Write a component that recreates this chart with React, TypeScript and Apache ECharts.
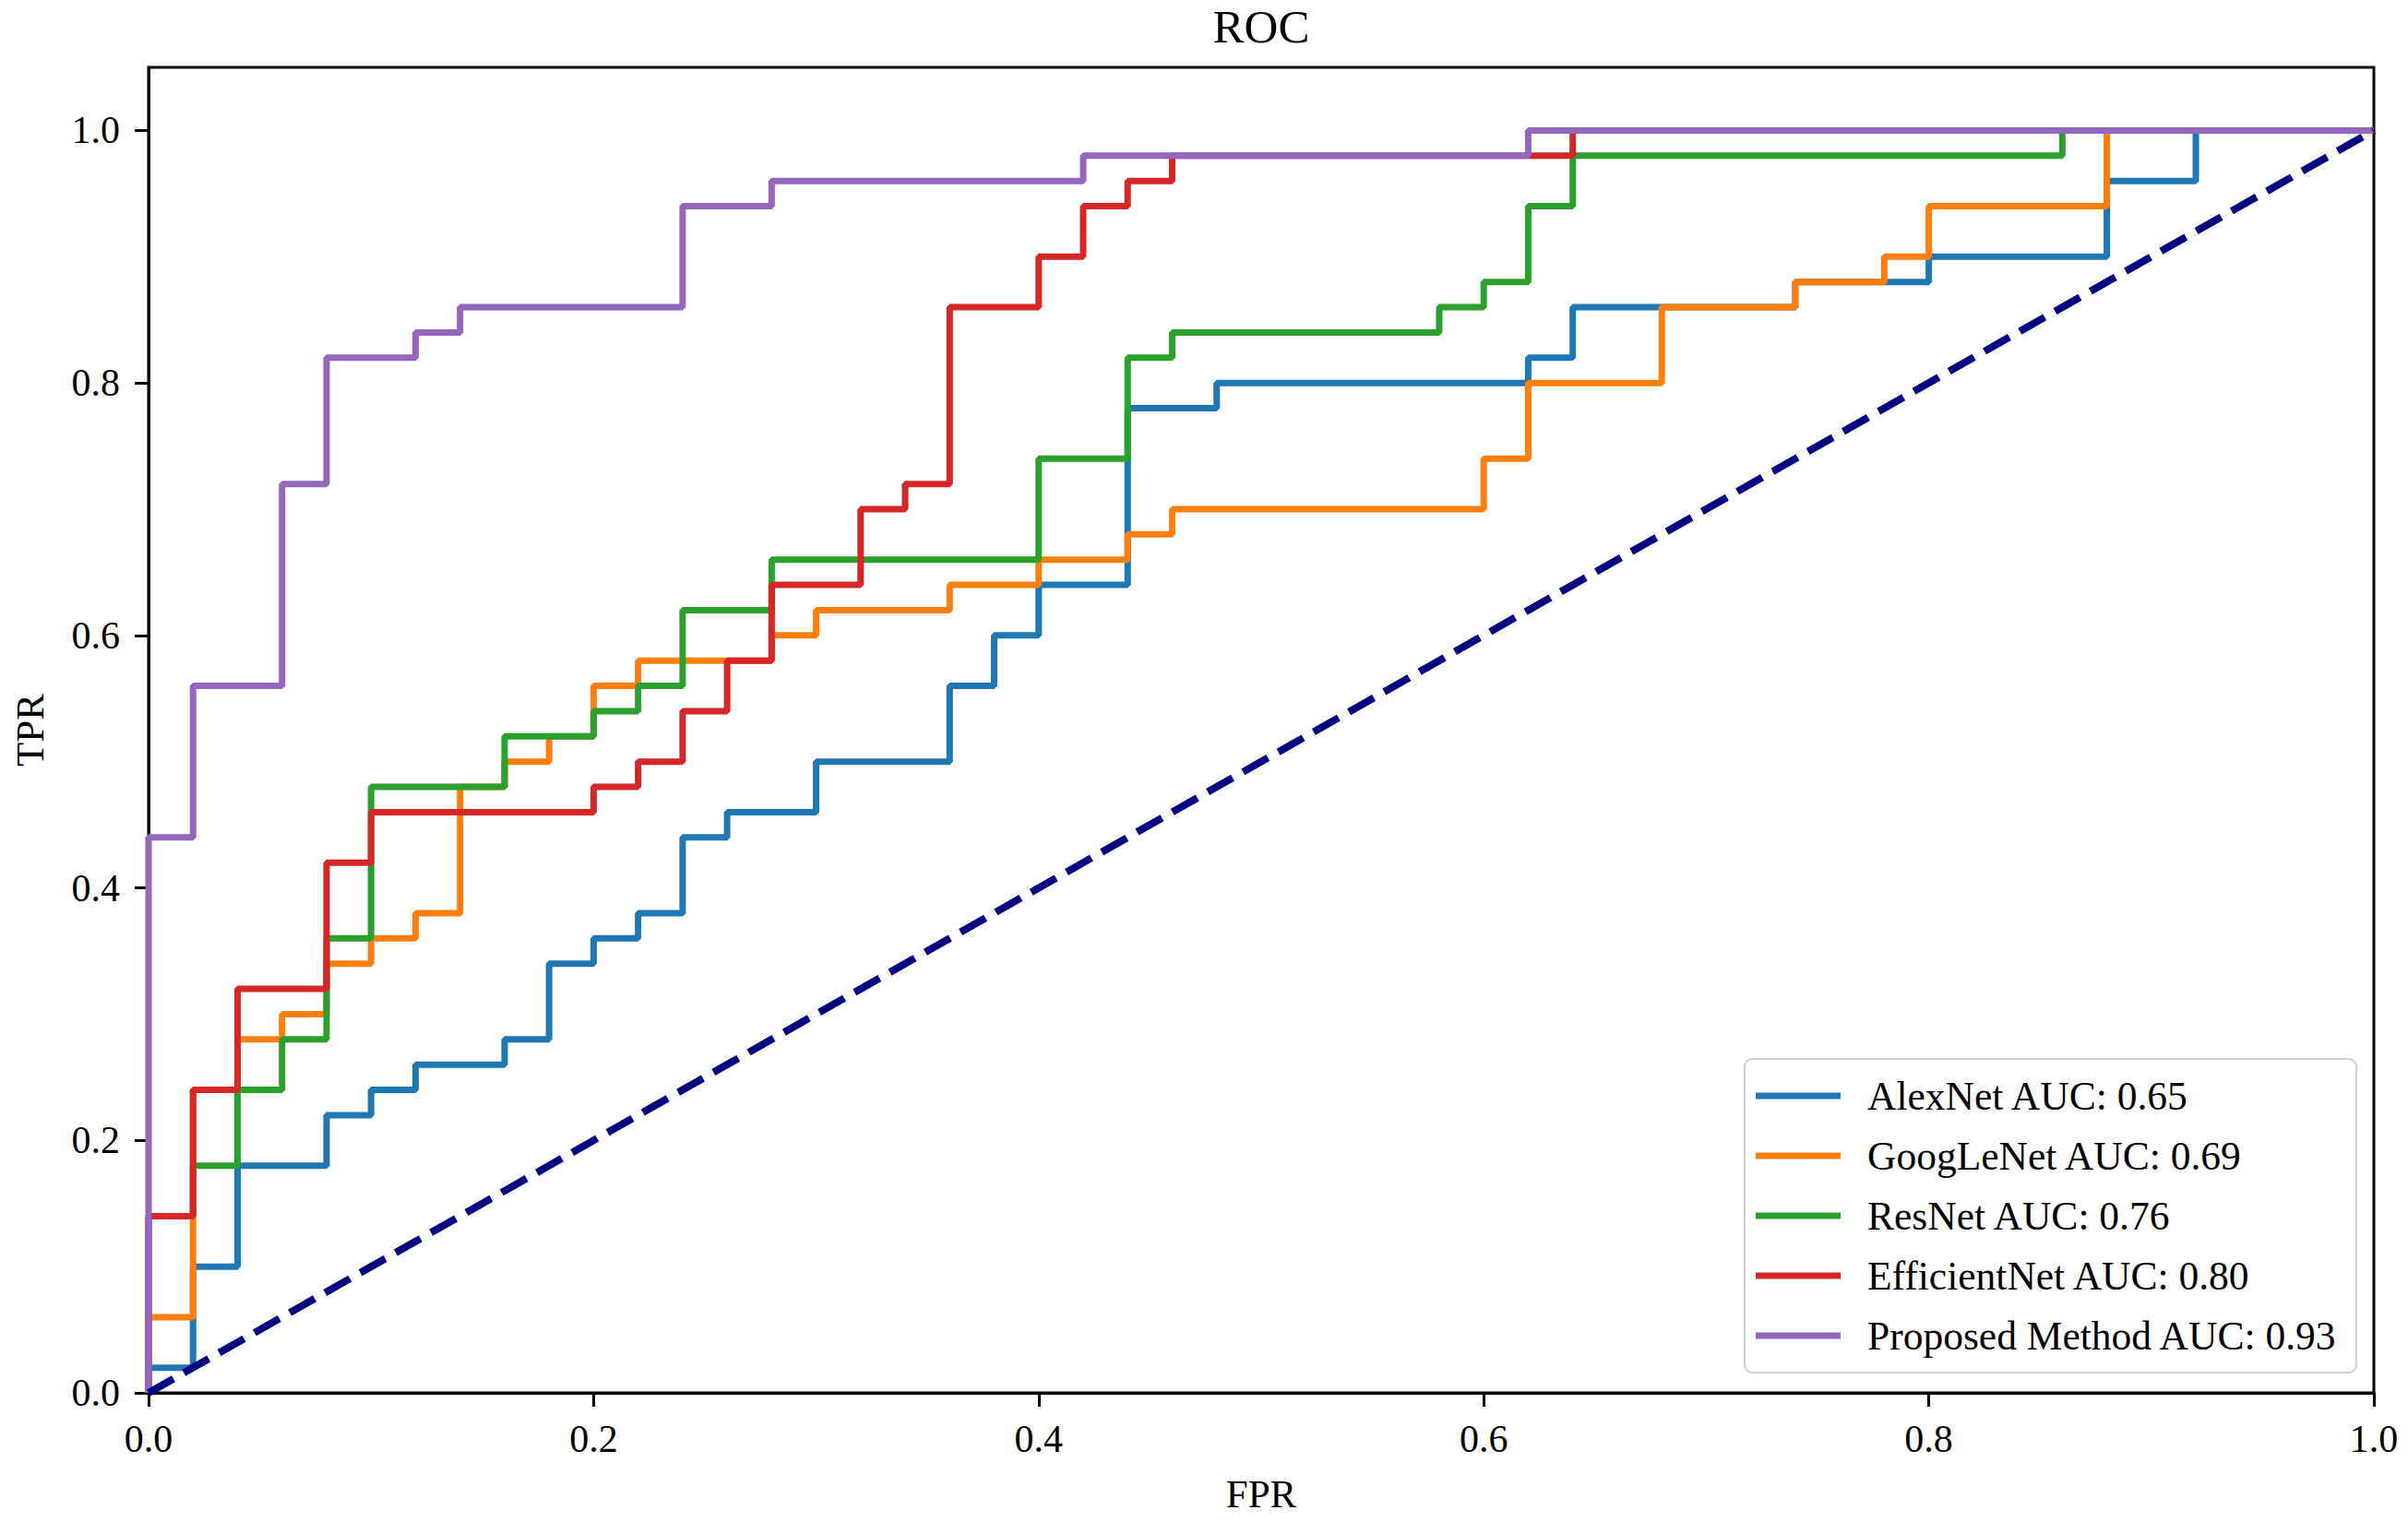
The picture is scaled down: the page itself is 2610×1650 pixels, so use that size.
import React, { useEffect, useRef } from "react";
import * as echarts from "echarts";

// ROC breakpoints: at fpr[i] the curve rises to tpr[i]
const alexNetFpr = [0, 0, 0.02, 0.04, 0.08, 0.1, 0.12, 0.16, 0.18, 0.2, 0.22, 0.24, 0.26, 0.3, 0.36, 0.38, 0.4, 0.44, 0.48, 0.62, 0.64, 0.74, 0.8, 0.88, 0.92, 1.0];
const alexNetTpr = [0, 0.02, 0.1, 0.18, 0.22, 0.24, 0.26, 0.28, 0.34, 0.36, 0.38, 0.44, 0.46, 0.5, 0.56, 0.6, 0.64, 0.78, 0.8, 0.82, 0.86, 0.88, 0.9, 0.96, 1.0, 1.0];

const googLeNetFpr = [0, 0, 0.02, 0.04, 0.06, 0.08, 0.1, 0.12, 0.14, 0.16, 0.18, 0.2, 0.22, 0.28, 0.3, 0.36, 0.4, 0.44, 0.46, 0.6, 0.62, 0.68, 0.74, 0.78, 0.8, 0.88, 1.0];
const googLeNetTpr = [0, 0.06, 0.24, 0.28, 0.3, 0.34, 0.36, 0.38, 0.48, 0.5, 0.52, 0.56, 0.58, 0.6, 0.62, 0.64, 0.66, 0.68, 0.7, 0.74, 0.8, 0.86, 0.88, 0.9, 0.94, 1.0, 1.0];

const resNetFpr = [0, 0, 0.02, 0.04, 0.06, 0.08, 0.1, 0.16, 0.2, 0.22, 0.24, 0.28, 0.4, 0.44, 0.46, 0.58, 0.6, 0.62, 0.64, 0.86, 1.0];
const resNetTpr = [0, 0.14, 0.18, 0.24, 0.28, 0.36, 0.48, 0.52, 0.54, 0.56, 0.62, 0.66, 0.74, 0.82, 0.84, 0.86, 0.88, 0.94, 0.98, 1.0, 1.0];

const efficientNetFpr = [0, 0, 0.02, 0.04, 0.08, 0.1, 0.2, 0.22, 0.24, 0.26, 0.28, 0.32, 0.34, 0.36, 0.4, 0.42, 0.44, 0.46, 0.64, 1.0];
const efficientNetTpr = [0, 0.14, 0.24, 0.32, 0.42, 0.46, 0.48, 0.5, 0.54, 0.58, 0.64, 0.7, 0.72, 0.86, 0.9, 0.94, 0.96, 0.98, 1.0, 1.0];

const proposedFpr = [0, 0, 0.02, 0.06, 0.08, 0.12, 0.14, 0.24, 0.28, 0.42, 0.62, 1.0];
const proposedTpr = [0, 0.44, 0.56, 0.72, 0.82, 0.84, 0.86, 0.94, 0.96, 0.98, 1.0, 1.0];

const chanceFpr = [0, 1];
const chanceTpr = [0, 1];

const seriesNames = [
  "AlexNet AUC: 0.65",
  "GoogLeNet AUC: 0.69",
  "ResNet AUC: 0.76",
  "EfficientNet AUC: 0.80",
  "Proposed Method AUC: 0.93",
];
const seriesColors = ["#1f77b4", "#ff7f0e", "#2ca02c", "#d62728", "#9467bd"];
const tickValues = [0, 0.2, 0.4, 0.6, 0.8, 1.0];

const FONT = "'Liberation Serif', 'DejaVu Serif', serif";

function zip(xs: number[], ys: number[]) {
  return xs.map((x, i) => [x, ys[i]]);
}

export default function App() {
  const ref = useRef<HTMLDivElement>(null);

  useEffect(() => {
    if (!ref.current) return;
    const chart = echarts.init(ref.current, null, { renderer: "svg" });
    const curves = [
      zip(alexNetFpr, alexNetTpr),
      zip(googLeNetFpr, googLeNetTpr),
      zip(resNetFpr, resNetTpr),
      zip(efficientNetFpr, efficientNetTpr),
      zip(proposedFpr, proposedTpr),
    ];
    const axisCommon = {
      type: "value" as const,
      splitLine: { show: false },
      axisLine: { show: true, lineStyle: { color: "#000", width: 3 } },
      axisTick: {
        show: true,
        inside: false,
        length: 15,
        lineStyle: { color: "#000", width: 3 },
        customValues: tickValues,
      },
      nameTextStyle: { fontFamily: FONT, fontSize: 43, color: "#000" },
    };
    chart.setOption({
      animation: false,
      backgroundColor: "#fff",
      title: {
        text: "ROC",
        left: 1367,
        top: 29,
        padding: 0,
        textAlign: "center",
        textVerticalAlign: "middle",
        textStyle: { fontFamily: FONT, fontSize: 51, fontWeight: "normal", color: "#000" },
      },
      grid: {
        left: 161,
        top: 73,
        right: 37,
        bottom: 140,
        show: true,
        borderColor: "#000",
        borderWidth: 3,
        backgroundColor: "transparent",
        containLabel: false,
      },
      legend: {
        orient: "vertical",
        left: 1891,
        top: 1148,
        data: seriesNames,
        icon: "rect",
        itemWidth: 92,
        itemHeight: 7,
        itemGap: 21,
        padding: [18, 20, 18, 12],
        backgroundColor: "rgba(255,255,255,0.8)",
        borderColor: "#d0d0d0",
        borderWidth: 2,
        borderRadius: 8,
        textStyle: {
          fontFamily: FONT,
          fontSize: 43.5,
          color: "#000",
          padding: [0, 0, 0, 24],
        },
      },
      xAxis: {
        ...axisCommon,
        min: 0,
        max: 1,
        interval: 0.2,
        name: "FPR",
        nameLocation: "middle",
        nameGap: 88,
        axisLabel: {
          fontFamily: FONT,
          fontSize: 42,
          color: "#000",
          margin: 29,
          customValues: tickValues,
          formatter: (v: number) => v.toFixed(1),
        },
      },
      yAxis: {
        ...axisCommon,
        min: 0,
        max: 1.05,
        interval: 0.2,
        name: "TPR",
        nameLocation: "middle",
        nameGap: 107,
        nameRotate: 90,
        axisLabel: {
          fontFamily: FONT,
          fontSize: 42,
          color: "#000",
          margin: 31,
          customValues: tickValues,
          formatter: (v: number) => (v > 1.001 ? "" : v.toFixed(1)),
        },
      },
      series: [
        ...curves.map((d, i) => ({
          name: seriesNames[i],
          type: "line",
          step: "end",
          data: d,
          showSymbol: false,
          symbol: "none",
          color: seriesColors[i],
          lineStyle: { color: seriesColors[i], width: 7 },
          z: 3 + i,
        })),
        {
          name: "chance",
          type: "line",
          data: zip(chanceFpr, chanceTpr),
          showSymbol: false,
          symbol: "none",
          color: "#000080",
          lineStyle: { color: "#000080", width: 8, type: [31, 13] },
          z: 10,
        },
      ],
    });
    return () => chart.dispose();
  }, []);

  return (
    <div
      ref={ref}
      style={{ position: "fixed", left: 0, top: 0, width: 2610, height: 1650, background: "#fff" }}
    />
  );
}
